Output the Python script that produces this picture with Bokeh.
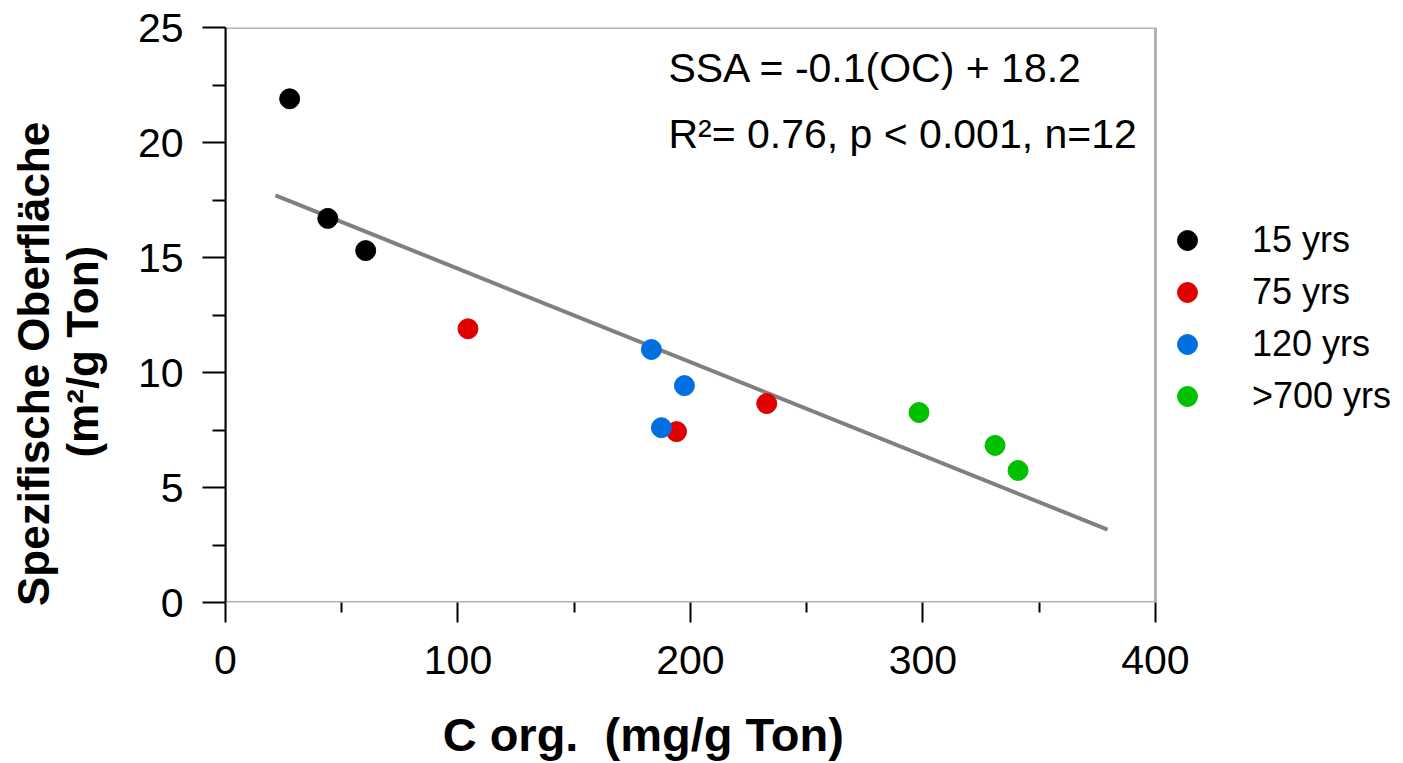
from bokeh.plotting import figure
from bokeh.models import Range1d, FixedTicker, Label, Legend, LegendItem, BoxAnnotation
from bokeh.embed import file_html
from bokeh.resources import INLINE

# ---- data ----
groups = ["15 yrs", "75 yrs", "120 yrs", ">700 yrs"]
colors = ["#000000", "#e10000", "#0070e0", "#00c000"]
x_15 = [27.6, 44.0, 60.3]
y_15 = [21.9, 16.7, 15.3]
x_75 = [104.3, 194.0, 232.8]
y_75 = [11.9, 7.43, 8.65]
x_120 = [183.2, 197.4, 187.5]
y_120 = [11.0, 9.43, 7.6]
x_700 = [298.3, 331.0, 340.9]
y_700 = [8.26, 6.83, 5.74]
fit_x = [21.5, 379.4]
fit_y = [17.7, 3.17]

x_ticks = [0, 100, 200, 300, 400]
x_minor = [50, 150, 250, 350]
y_ticks = [0, 5, 10, 15, 20, 25]
y_minor = [2.5, 7.5, 12.5, 17.5, 22.5]

eq_text = "SSA = -0.1(OC) + 18.2"
stat_text = "R\u00b2= 0.76, p < 0.001, n=12"
NB = "\u00a0"
# trailing non-breaking spaces shift the centred titles the way the reference has them
x_title = "C org." + NB + " (mg/g Ton)" + NB * 26
y_title = "Spezifische Oberfläche" + NB * 8 + "\n" + "(m\u00b2/g Ton)" + NB * 6

FONT = "Liberation Sans"

# the frame runs on to the right so that the legend can sit in it; the plot box
# itself (0..400 x 0..25) is drawn by a BoxAnnotation
p = figure(width=1403, height=763, output_backend="svg", toolbar_location=None,
           x_range=Range1d(0, 505.4), y_range=Range1d(y_ticks[0], y_ticks[-1]),
           min_border_left=225, min_border_right=3, min_border_top=27,
           min_border_bottom=161)
p.xgrid.visible = False
p.ygrid.visible = False
p.outline_line_color = None
p.background_fill_color = "white"

for ax, maj, mnr in ((p.xaxis[0], x_ticks, x_minor), (p.yaxis[0], y_ticks, y_minor)):
    ax.ticker = FixedTicker(ticks=maj, minor_ticks=mnr)
    ax.axis_line_color = "black"
    ax.axis_line_width = 2
    ax.major_tick_line_width = 2
    ax.minor_tick_line_width = 2
    ax.major_tick_line_color = "black"
    ax.minor_tick_line_color = "black"
    ax.major_tick_in = 0
    ax.minor_tick_in = 0
    ax.major_label_text_font = FONT
    ax.major_label_text_font_size = "41px"
    ax.major_label_text_color = "black"
    ax.axis_label_text_font = FONT
    ax.axis_label_text_font_style = "bold"
    ax.axis_label_text_color = "black"
p.xaxis[0].axis_line_color = None
p.xaxis[0].major_tick_out = 20
p.xaxis[0].minor_tick_out = 10
p.xaxis[0].major_label_standoff = 23
p.xaxis[0].axis_label = x_title
p.xaxis[0].axis_label_text_font_size = "47px"
p.xaxis[0].axis_label_standoff = 31
p.yaxis[0].major_tick_out = 23
p.yaxis[0].minor_tick_out = 13
p.yaxis[0].major_label_standoff = 19
p.yaxis[0].axis_label = y_title
p.yaxis[0].axis_label_text_font_size = "44px"
p.yaxis[0].axis_label_text_line_height = 1.0
p.yaxis[0].axis_label_standoff = 28

# plot box
p.add_layout(BoxAnnotation(left=x_ticks[0], right=x_ticks[-1], bottom=y_ticks[0], top=y_ticks[-1],
                           fill_alpha=0, line_color="black", line_width=3))

# regression line
p.line(fit_x, fit_y, line_color="#808080", line_width=4)

renderers = []
for xs, ys, c in ((x_15, y_15, colors[0]), (x_75, y_75, colors[1]),
                  (x_120, y_120, colors[2]), (x_700, y_700, colors[3])):
    r = p.scatter(xs, ys, size=20, fill_color=c, line_color=c)
    renderers.append(r)

legend = Legend(items=[LegendItem(label=g, renderers=[r]) for g, r in zip(groups, renderers)],
                location=(937, 181), glyph_width=50, glyph_height=50, spacing=2,
                padding=0, margin=0, label_standoff=40,
                label_text_font=FONT, label_text_font_size="36px",
                label_text_baseline="middle", label_text_color="black",
                border_line_alpha=0, background_fill_alpha=0)
p.add_layout(legend, "center")

p.add_layout(Label(x=190.5, y=23.22, text=eq_text, text_font=FONT, text_font_size="41px",
                   text_color="black", text_baseline="alphabetic", text_align="left"))
p.add_layout(Label(x=190.5, y=20.39, text=stat_text, text_font=FONT, text_font_size="41px",
                   text_color="black", text_baseline="alphabetic", text_align="left"))

open("out.html", "w").write(file_html(p, INLINE))
